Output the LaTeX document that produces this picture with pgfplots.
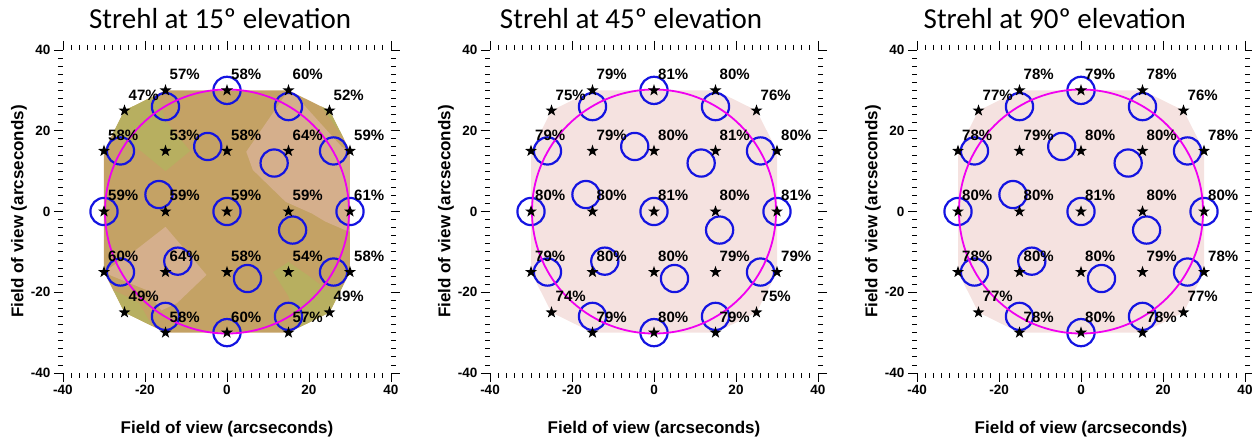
\documentclass[border=0pt]{standalone}
\usepackage{fontspec}
\setmainfont{Liberation Sans}
\newfontfamily\titlefont{Carlito}
\usepackage{pgfplots}
\usepackage{pgfplotstable}
\pgfplotsset{compat=1.18}

\definecolor{tanc}{RGB}{196,162,101}
\definecolor{pinkc}{RGB}{213,175,140}
\definecolor{olivec}{RGB}{183,175,96}
\definecolor{palec}{RGB}{245,226,224}
\definecolor{circblue}{RGB}{20,20,225}
\definecolor{magc}{RGB}{240,0,240}

\pgfdeclareplotmark{fstar}{%
  \pgfpathmoveto{\pgfpointpolar{90}{\pgfplotmarksize}}%
  \pgfpathlineto{\pgfpointpolar{126}{0.4\pgfplotmarksize}}%
  \pgfpathlineto{\pgfpointpolar{162}{\pgfplotmarksize}}%
  \pgfpathlineto{\pgfpointpolar{198}{0.4\pgfplotmarksize}}%
  \pgfpathlineto{\pgfpointpolar{234}{\pgfplotmarksize}}%
  \pgfpathlineto{\pgfpointpolar{270}{0.4\pgfplotmarksize}}%
  \pgfpathlineto{\pgfpointpolar{306}{\pgfplotmarksize}}%
  \pgfpathlineto{\pgfpointpolar{342}{0.4\pgfplotmarksize}}%
  \pgfpathlineto{\pgfpointpolar{18}{\pgfplotmarksize}}%
  \pgfpathlineto{\pgfpointpolar{54}{0.4\pgfplotmarksize}}%
  \pgfpathclose
  \pgfusepathqfill
}

\pgfplotstableread{
x y s
-15 30 57
0 30 58
15 30 60
-25 25 47
25 25 52
-30 15 58
-15 15 53
0 15 58
15 15 64
30 15 59
-30 0 59
-15 0 59
0 0 59
15 0 59
30 0 61
-30 -15 60
-15 -15 64
0 -15 58
15 -15 54
30 -15 58
-25 -25 49
25 -25 49
-15 -30 58
0 -30 60
15 -30 57
}\strehlA

\pgfplotstableread{
x y s
-15 30 79
0 30 81
15 30 80
-25 25 75
25 25 76
-30 15 79
-15 15 79
0 15 80
15 15 81
30 15 80
-30 0 80
-15 0 80
0 0 81
15 0 80
30 0 81
-30 -15 79
-15 -15 80
0 -15 80
15 -15 79
30 -15 79
-25 -25 74
25 -25 75
-15 -30 79
0 -30 80
15 -30 79
}\strehlB

\pgfplotstableread{
x y s
-15 30 78
0 30 79
15 30 78
-25 25 77
25 25 76
-30 15 78
-15 15 79
0 15 80
15 15 80
30 15 78
-30 0 80
-15 0 80
0 0 81
15 0 80
30 0 80
-30 -15 78
-15 -15 80
0 -15 80
15 -15 79
30 -15 78
-25 -25 77
25 -25 77
-15 -30 78
0 -30 80
15 -30 78
}\strehlC

\pgfplotstableread{
x y
0 0
30 0
25.98 15
15 25.98
0 30
-15 25.98
-25.98 15
-30 0
-25.98 -15
-15 -25.98
0 -30
15 -25.98
25.98 -15
11.5 12
-4.7 16.1
-16.6 4.2
-12 -12.3
5 -16.6
16 -4.6
}\circs

\pgfplotstableread{
x y
-15 30
15 30
25 25
30 15
30 -15
25 -25
15 -30
-15 -30
-25 -25
-30 -15
-30 15
-25 25
-15 30
}\hull

\pgfplotsset{
  fovaxis/.style={
    scale only axis, width=328pt, height=323pt,
    anchor=south west,
    xmin=-40, xmax=40, ymin=-40, ymax=40,
    axis line style={draw=none},
    tick align=outside,
    xtick={-40,-20,0,20,40}, xticklabels={-40,-20,0,20,40},
    ytick={-40,-20,0,20,40}, yticklabels={-40,-20,0,20,40},
    minor tick num=9,
    major tick length=9pt, minor tick length=5pt,
    tick style={black, line width=0.8pt},
    every tick label/.append style={font=\fontsize{13.5}{16}\selectfont\bfseries},
    xlabel={Field of view (arcseconds)},
    ylabel={Field of view (arcseconds)},
    label style={font=\fontsize{17}{20}\selectfont\bfseries},
    xlabel style={at={(axis description cs:0.5,0)}, anchor=base, yshift=-61pt},
    ylabel style={at={(axis description cs:-0.134,0.5)}, anchor=center},
    title style={anchor=base, yshift=15pt, font=\titlefont\fontsize{29}{34}\selectfont},
    clip=false,
  },
  circles/.style={only marks, mark=o, mark size=13.6pt, circblue, line width=2.2pt},
  bigcircle/.style={only marks, mark=o, mark size=122pt, magc, line width=1.8pt},
  stars/.style={only marks, mark=fstar, mark size=6.2pt, black, mark options={fill=black},
    point meta=explicit symbolic,
    nodes near coords={\pgfplotspointmeta\%},
    every node near coord/.append style={anchor=base west, xshift=4pt, yshift=10.5pt,
      inner sep=0pt, text=black, font=\fontsize{15}{17}\selectfont\bfseries}},
}

\begin{document}
\begin{tikzpicture}
\useasboundingbox (0,0) rectangle (1252pt,441pt);

% Panel 1
\begin{axis}[fovaxis, at={(63pt,68pt)},
  title={Strehl at 15º elevation}, title style={at={(axis description cs:0.479,1)}}]
\addplot[draw=none, fill=tanc] table {\hull};
\addplot[draw=none, fill=pinkc] coordinates {(4.7,14.8) (15,30) (16,29.5) (28,16) (30,15) (30,-5) (28.8,-4.6) (24,-2.5) (20.7,-0.5) (14.3,2.4) (6.3,10.3)};
\addplot[draw=none, fill=pinkc] coordinates {(-15,-3.8) (-5,-15.7) (-12.2,-22.7) (-16,-24.5) (-19.5,-19.5) (-28,-16) (-30,-15) (-22.2,-9.5)};
\addplot[draw=none, fill=olivec] coordinates {(-17,29) (-15,22.5) (-9,15) (-15,10) (-21,15) (-28,19) (-25,25)};
\addplot[draw=none, fill=olivec] coordinates {(23,26) (25,25) (28.5,18) (26.5,21) (24.5,24)};
\addplot[draw=none, fill=olivec] coordinates {(11.25,-15) (15,-12.5) (20,-16) (24.5,-19.5) (28.3,-18.3) (25,-25) (17.5,-28.75) (15,-21)};
\addplot[draw=none, fill=olivec] coordinates {(-27.7,-19.5) (-21.5,-22.5) (-18.3,-28.3) (-25,-25)};
\addplot[circles] table {\circs};
\addplot[bigcircle] coordinates {(0,0)};
\addplot[stars] table[meta=s] {\strehlA};
\end{axis}

% Panel 2
\begin{axis}[fovaxis, at={(490pt,68pt)},
  title={Strehl at 45º elevation}, title style={at={(axis description cs:0.43,1)}}]
\addplot[draw=none, fill=palec] table {\hull};
\addplot[circles] table {\circs};
\addplot[bigcircle] coordinates {(0,0)};
\addplot[stars] table[meta=s] {\strehlB};
\end{axis}

% Panel 3
\begin{axis}[fovaxis, at={(917pt,68pt)},
  title={Strehl at 90º elevation}, title style={at={(axis description cs:0.42,1)}}]
\addplot[draw=none, fill=palec] table {\hull};
\addplot[circles] table {\circs};
\addplot[bigcircle] coordinates {(0,0)};
\addplot[stars] table[meta=s] {\strehlC};
\end{axis}
\end{tikzpicture}
\end{document}
